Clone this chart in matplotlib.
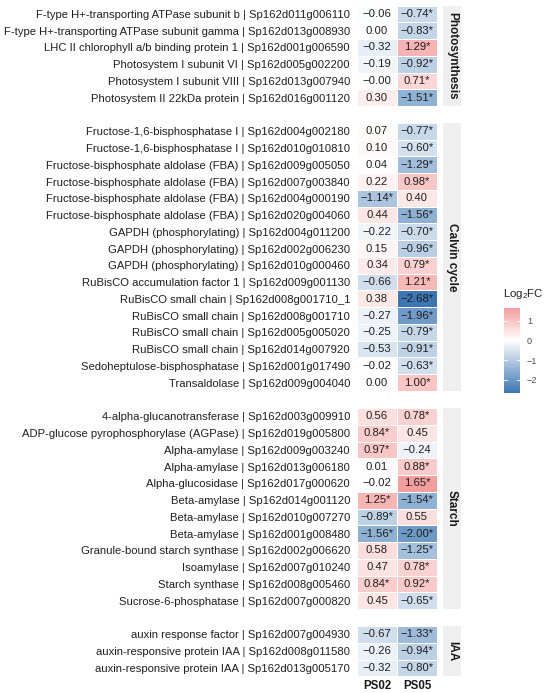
import numpy as np
import matplotlib
matplotlib.use("Agg")
import matplotlib.pyplot as plt
from matplotlib.colors import LinearSegmentedColormap, Normalize

plt.rcParams['font.family'] = ['Liberation Sans', 'DejaVu Sans']

samples = ["PS02", "PS05"]
groups = ["Photosynthesis", "Calvin cycle", "Starch", "IAA"]

photo_genes = [
    "F-type H+-transporting ATPase subunit b | Sp162d011g006110",
    "F-type H+-transporting ATPase subunit gamma | Sp162d013g008930",
    "LHC II chlorophyll a/b binding protein 1 | Sp162d001g006590",
    "Photosystem I subunit VI | Sp162d005g002200",
    "Photosystem I subunit VIII | Sp162d013g007940",
    "Photosystem II 22kDa protein | Sp162d016g001120",
]
photo_ps02 = [-0.06, 0.00, -0.32, -0.19, -0.00, 0.30]
photo_ps05 = [-0.74, -0.83, 1.29, -0.92, 0.71, -1.51]
photo_sig02 = [0, 0, 0, 0, 0, 0]
photo_sig05 = [1, 1, 1, 1, 1, 1]

calvin_genes = [
    "Fructose-1,6-bisphosphatase I | Sp162d004g002180",
    "Fructose-1,6-bisphosphatase I | Sp162d010g010810",
    "Fructose-bisphosphate aldolase (FBA) | Sp162d009g005050",
    "Fructose-bisphosphate aldolase (FBA) | Sp162d007g003840",
    "Fructose-bisphosphate aldolase (FBA) | Sp162d004g000190",
    "Fructose-bisphosphate aldolase (FBA) | Sp162d020g004060",
    "GAPDH (phosphorylating) | Sp162d004g011200",
    "GAPDH (phosphorylating) | Sp162d002g006230",
    "GAPDH (phosphorylating) | Sp162d010g000460",
    "RuBisCO accumulation factor 1 | Sp162d009g001130",
    "RuBisCO small chain | Sp162d008g001710_1",
    "RuBisCO small chain | Sp162d008g001710",
    "RuBisCO small chain | Sp162d005g005020",
    "RuBisCO small chain | Sp162d014g007920",
    "Sedoheptulose-bisphosphatase | Sp162d001g017490",
    "Transaldolase | Sp162d009g004040",
]
calvin_ps02 = [0.07, 0.10, 0.04, 0.22, -1.14, 0.44, -0.22, 0.15, 0.34, -0.66,
               0.38, -0.27, -0.25, -0.53, -0.02, 0.00]
calvin_ps05 = [-0.77, -0.60, -1.29, 0.98, 0.40, -1.56, -0.70, -0.96, 0.79, 1.21,
               -2.68, -1.96, -0.79, -0.91, -0.63, 1.00]
calvin_sig02 = [0, 0, 0, 0, 1, 0, 0, 0, 0, 0, 0, 0, 0, 0, 0, 0]
calvin_sig05 = [1, 1, 1, 1, 0, 1, 1, 1, 1, 1, 1, 1, 1, 1, 1, 1]

starch_genes = [
    "4-alpha-glucanotransferase | Sp162d003g009910",
    "ADP-glucose pyrophosphorylase (AGPase) | Sp162d019g005800",
    "Alpha-amylase | Sp162d009g003240",
    "Alpha-amylase | Sp162d013g006180",
    "Alpha-glucosidase | Sp162d017g000620",
    "Beta-amylase | Sp162d014g001120",
    "Beta-amylase | Sp162d010g007270",
    "Beta-amylase | Sp162d001g008480",
    "Granule-bound starch synthase | Sp162d002g006620",
    "Isoamylase | Sp162d007g010240",
    "Starch synthase | Sp162d008g005460",
    "Sucrose-6-phosphatase | Sp162d007g000820",
]
starch_ps02 = [0.56, 0.84, 0.97, 0.01, -0.02, 1.25, -0.89, -1.56, 0.58, 0.47, 0.84, 0.45]
starch_ps05 = [0.78, 0.45, -0.24, 0.88, 1.65, -1.54, 0.55, -2.00, -1.25, 0.78, 0.92, -0.65]
starch_sig02 = [0, 1, 1, 0, 0, 1, 1, 1, 0, 0, 1, 0]
starch_sig05 = [1, 0, 0, 1, 1, 1, 0, 1, 1, 1, 1, 1]

iaa_genes = [
    "auxin response factor | Sp162d007g004930",
    "auxin-responsive protein IAA | Sp162d008g011580",
    "auxin-responsive protein IAA | Sp162d013g005170",
]
iaa_ps02 = [-0.67, -0.26, -0.32]
iaa_ps05 = [-1.33, -0.94, -0.80]
iaa_sig02 = [0, 0, 0]
iaa_sig05 = [1, 1, 1]

facets = [
    (photo_genes, photo_ps02, photo_ps05, photo_sig02, photo_sig05),
    (calvin_genes, calvin_ps02, calvin_ps05, calvin_sig02, calvin_sig05),
    (starch_genes, starch_ps02, starch_ps05, starch_sig02, starch_sig05),
    (iaa_genes, iaa_ps02, iaa_ps05, iaa_sig02, iaa_sig05),
]

allvals = np.array(photo_ps02 + photo_ps05 + calvin_ps02 + calvin_ps05 +
                   starch_ps02 + starch_ps05 + iaa_ps02 + iaa_ps05)
vmin, vmax = allvals.min(), allvals.max()
lim = max(abs(vmin), abs(vmax))
cmap = LinearSegmentedColormap.from_list("bwr2", ["#3C77B4", "#FFFFFF", "#EE6262"])
norm = Normalize(-lim, lim)

W, H = 550, 693
fig = plt.figure(figsize=(W / 100, H / 100), dpi=100)

def px(x0, y0, w, h):
    return [x0 / W, 1 - (y0 + h) / H, w / W, h / H]

row_h = 16.75
gap = 17.0
top = 5.5
x0, pw = 357, 80
sx0, sw = 443, 18
fs = 8.1

def fmt(v, s):
    t = f"{v:.2f}".replace("-", "\u2212")
    return t + ("*" if s else "")

y = top
for gi, (genes, a, b, sa, sb) in enumerate(facets):
    n = len(genes)
    ph = n * row_h
    ax = fig.add_axes(px(x0, y, pw, ph))
    data = np.column_stack([a, b])
    ax.pcolormesh(np.arange(3), np.arange(n + 1), data, cmap=cmap, norm=norm,
                  edgecolors="white", linewidth=0.6)
    ax.set_xlim(0, 2)
    ax.set_ylim(n, 0)
    for i in range(n):
        ax.text(0.5, i + 0.5, fmt(a[i], sa[i]), ha="center", va="center",
                fontsize=fs, color="#1F1F1F")
        ax.text(1.5, i + 0.5, fmt(b[i], sb[i]), ha="center", va="center",
                fontsize=fs, color="#1F1F1F")
    ax.set_yticks(np.arange(n) + 0.5)
    ax.set_yticklabels(genes, fontsize=fs, color="#1F1F1F")
    ax.tick_params(axis="y", length=0, pad=5)
    for s in ax.spines.values():
        s.set_visible(False)
    if gi == len(facets) - 1:
        ax.set_xticks([0.5, 1.5])
        ax.set_xticklabels(samples, fontsize=8.3, fontweight="bold", color="#1A1A1A")
        ax.tick_params(axis="x", length=0, pad=3)
    else:
        ax.set_xticks([])
    sax = fig.add_axes(px(sx0, y, sw, ph))
    sax.set_facecolor("#EFEFEF")
    sax.set_xticks([]); sax.set_yticks([])
    for s in sax.spines.values():
        s.set_visible(False)
    sax.text(0.5, 0.5, groups[gi], rotation=-90, ha="center", va="center",
             fontsize=8.5, fontweight="bold", color="#1A1A1A", transform=sax.transAxes)
    y += ph + gap

fig.text(503 / W, 1 - 294 / H, "Log$_\\mathregular{2}$FC", ha="left", va="center",
         fontsize=8.2, color="#1F1F1F")
cax = fig.add_axes(px(504, 308, 16, 85))
grad = np.linspace(vmax, vmin, 300)[:, None]
cax.imshow(grad, cmap=cmap, norm=norm, aspect="auto", extent=[0, 1, vmin, vmax])
cax.set_xlim(0, 1)
cax.set_ylim(vmin, vmax)
cax.set_xticks([])
ticks = [1, 0, -1, -2]
cax.yaxis.tick_right()
cax.set_yticks(ticks)
cax.set_yticklabels([str(t).replace("-", "\u2212") for t in ticks], fontsize=6.6, color="#4D4D4D")
cax.tick_params(axis="y", length=0, pad=5)
for t in ticks:
    cax.plot([0, 0.2], [t, t], color="white", lw=0.6)
    cax.plot([0.8, 1], [t, t], color="white", lw=0.6)
for s in cax.spines.values():
    s.set_visible(False)

fig.savefig("out.png", dpi=100)
